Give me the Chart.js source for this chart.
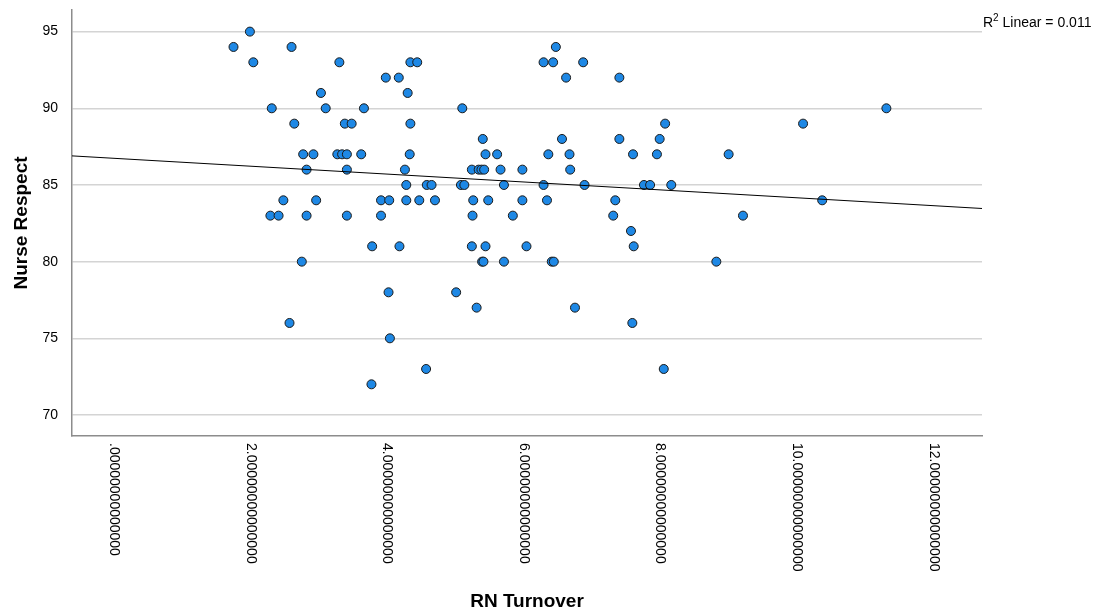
<!DOCTYPE html>
<html>
<head>
<meta charset="utf-8">
<script src="https://cdn.jsdelivr.net/npm/chart.js@4.4.1/dist/chart.umd.min.js"></script>
<style>
  html, body { margin: 0; padding: 0; background: #fff; }
  #wrap { width: 1094px; height: 613px; }
</style>
</head>
<body>
<div id="wrap"><canvas id="scatterChart"></canvas></div>
<script>
// RN Turnover (x) and Nurse Respect (y), one entry per hospital
var turnover = [
  1.99,
  1.75, 2.60, 6.47,
  2.04, 3.30, 4.34, 4.44, 6.29, 6.43, 6.87,
  3.98, 4.17, 6.62, 7.40,
  3.03, 4.30,
  2.31, 3.10, 3.66, 5.10, 11.31,
  2.64, 3.38, 3.48, 4.34, 8.07, 10.09,
  5.40, 6.56, 7.40, 7.99,
  2.77, 2.92, 3.27, 3.34, 3.41, 3.62, 4.33, 5.44, 5.61, 6.36, 6.67, 7.60, 7.95, 9.00,
  2.82, 3.41, 4.26, 5.24, 5.34, 5.38, 5.42, 5.66, 5.98, 6.68,
  4.28, 4.58, 4.65, 5.08, 5.13, 5.71, 6.29, 6.89, 7.76, 7.85, 8.16,
  2.48, 2.96, 3.91, 4.03, 4.28, 4.47, 4.70, 5.26, 5.48, 5.98, 6.34, 7.34, 10.37,
  2.29, 2.41, 2.82, 3.41, 3.91, 5.25, 5.84, 7.31, 9.21,
  7.57,
  3.78, 4.18, 5.24, 5.44, 6.04, 7.61,
  2.75, 5.39, 5.41, 5.71, 6.41, 6.44, 8.82,
  4.02, 5.01,
  5.31, 6.75,
  2.57, 7.59,
  4.04,
  4.57, 8.05,
  3.77
];
var respect = [
  95,
  94, 94, 94,
  93, 93, 93, 93, 93, 93, 93,
  92, 92, 92, 92,
  91, 91,
  90, 90, 90, 90, 90,
  89, 89, 89, 89, 89, 89,
  88, 88, 88, 88,
  87, 87, 87, 87, 87, 87, 87, 87, 87, 87, 87, 87, 87, 87,
  86, 86, 86, 86, 86, 86, 86, 86, 86, 86,
  85, 85, 85, 85, 85, 85, 85, 85, 85, 85, 85,
  84, 84, 84, 84, 84, 84, 84, 84, 84, 84, 84, 84, 84,
  83, 83, 83, 83, 83, 83, 83, 83, 83,
  82,
  81, 81, 81, 81, 81, 81,
  80, 80, 80, 80, 80, 80, 80,
  78, 78,
  77, 77,
  76, 76,
  75,
  73, 73,
  72
];
var yTicks = [70, 75, 80, 85, 90, 95];
var xTicks = [0, 2, 4, 6, 8, 10, 12];
var xTickLabels = [
  '.00000000000000', '2.00000000000000', '4.00000000000000', '6.00000000000000',
  '8.00000000000000', '10.00000000000000', '12.00000000000000'
];
var fitLabel = ' Linear = 0.011';

var xMin = -0.615, xMax = 12.71;
var yMin = 68.63, yMax = 96.41;
var fontName = "'Liberation Sans', Arial, sans-serif";

// points for the scatter
var points = [];
for (var i = 0; i < turnover.length; i++) {
  points.push({ x: turnover[i], y: respect[i] });
}

// least squares fit line across the x range
var n = turnover.length, sx = 0, sy = 0, sxx = 0, sxy = 0;
for (var k = 0; k < n; k++) {
  sx += turnover[k]; sy += respect[k];
  sxx += turnover[k] * turnover[k]; sxy += turnover[k] * respect[k];
}
var slope = (n * sxy - sx * sy) / (n * sxx - sx * sx);
var intercept = (sy - slope * sx) / n;
var fitLine = [
  { x: xMin, y: intercept + slope * xMin },
  { x: xMax, y: intercept + slope * xMax }
];

// rotated x labels (reading downward) and the R2 note
var extraText = {
  id: 'extraText',
  afterDraw: function(chart) {
    var ctx = chart.ctx;
    var xs = chart.scales.x;
    ctx.save();
    ctx.fillStyle = '#000';
    ctx.font = '14px ' + fontName;
    ctx.textAlign = 'left';
    ctx.textBaseline = 'middle';
    for (var i = 0; i < xTicks.length; i++) {
      var px = xs.getPixelForValue(xTicks[i]);
      ctx.save();
      ctx.translate(px, xs.top + 7);
      ctx.rotate(Math.PI / 2);
      ctx.fillText(xTickLabels[i], 0, 0);
      ctx.restore();
    }
    var left = chart.chartArea.right + 1;
    ctx.textBaseline = 'alphabetic';
    ctx.font = '14px ' + fontName;
    ctx.fillText('R', left, 27);
    var w = ctx.measureText('R').width;
    ctx.font = '10px ' + fontName;
    ctx.fillText('2', left + w, 21);
    var w2 = ctx.measureText('2').width;
    ctx.font = '14px ' + fontName;
    ctx.fillText(fitLabel, left + w + w2, 27);
    ctx.restore();
  }
};

var ctx = document.getElementById('scatterChart').getContext('2d');
new Chart(ctx, {
  type: 'scatter',
  data: {
    datasets: [{
      type: 'line',
      data: fitLine,
      borderColor: '#000',
      borderWidth: 1,
      pointRadius: 0,
      fill: false,
      order: 0
    }, {
      data: points,
      backgroundColor: '#1e88e5',
      borderColor: '#1a1a1a',
      borderWidth: 1,
      pointRadius: 4.5,
      order: 1
    }]
  },
  options: {
    responsive: true,
    maintainAspectRatio: false,
    animation: false,
    layout: { padding: { top: 10, right: 112, left: 0, bottom: 0 } },
    scales: {
      x: {
        type: 'linear',
        min: xMin,
        max: xMax,
        afterBuildTicks: function(scale) {
          scale.ticks = xTicks.map(function(v) { return { value: v }; });
        },
        afterFit: function(scale) {
          scale.height = 177;
          scale.paddingLeft = 0;
          scale.paddingRight = 0;
        },
        grid: { display: false, drawTicks: false },
        border: { display: true, color: '#8c8c8c', width: 1.5 },
        ticks: { display: false },
        title: {
          display: true,
          text: 'RN Turnover',
          color: '#000',
          font: { family: fontName, size: 19, weight: 'bold' },
          padding: { top: 0, bottom: 0 }
        }
      },
      y: {
        type: 'linear',
        min: yMin,
        max: yMax,
        afterBuildTicks: function(scale) {
          scale.ticks = yTicks.map(function(v) { return { value: v }; });
        },
        afterFit: function(scale) {
          scale.width = 72;
          scale.paddingTop = 0;
          scale.paddingBottom = 0;
        },
        grid: { color: '#d4d4d4', lineWidth: 1.5, drawTicks: false },
        border: { display: true, color: '#8c8c8c', width: 1.5 },
        ticks: {
          color: '#000',
          padding: 14,
          font: { family: fontName, size: 14 }
        },
        title: {
          display: true,
          text: 'Nurse Respect',
          color: '#000',
          font: { family: fontName, size: 19, weight: 'bold' },
          padding: { top: 10, bottom: 0 }
        }
      }
    },
    plugins: {
      legend: { display: false },
      tooltip: { enabled: false }
    }
  },
  plugins: [extraText]
});
</script>
</body>
</html>
